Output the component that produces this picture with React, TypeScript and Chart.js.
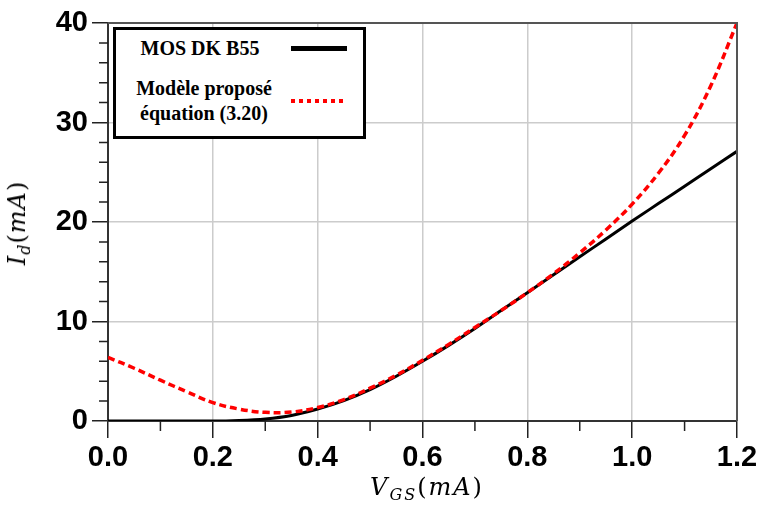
import React, { useEffect, useRef } from "react";
import { Chart, registerables } from "chart.js";

Chart.register(...registerables);

const xValues = [0, 0.05, 0.1, 0.15, 0.2, 0.25, 0.3, 0.35, 0.4, 0.45, 0.5, 0.55, 0.6, 0.65, 0.7, 0.75, 0.8, 0.85, 0.9, 0.95, 1.0, 1.05, 1.1, 1.15, 1.2];
const mosDK = [0, 0, 0, 0, 0, 0.05, 0.2, 0.55, 1.2, 2.05, 3.15, 4.5, 6.0, 7.6, 9.3, 11.1, 12.9, 14.7, 16.5, 18.3, 20.1, 21.85, 23.6, 25.35, 27.1];
const modele = [6.4, 5.3, 4.1, 2.95, 1.85, 1.2, 0.87, 0.9, 1.35, 2.15, 3.3, 4.6, 6.1, 7.7, 9.4, 11.1, 12.9, 14.8, 16.9, 19.2, 21.8, 24.9, 28.7, 33.7, 40];
const xTicks = [0, 0.2, 0.4, 0.6, 0.8, 1.0, 1.2];
const yTicks = [0, 10, 20, 30, 40];
const xMinor = [0.1, 0.3, 0.5, 0.7, 0.9, 1.1];
const yMinor = [2, 4, 6, 8, 12, 14, 16, 18, 22, 24, 26, 28, 32, 34, 36, 38];
const legendLabels = ["MOS DK B55", "Modèle proposé", "équation (3.20)"];

const frameAndMinor = {
  id: "frameAndMinor",
  afterDraw(chart: any) {
    const { ctx, chartArea, scales } = chart;
    const xs = scales.x;
    const ys = scales.y;
    ctx.save();
    ctx.strokeStyle = "#555";
    ctx.lineWidth = 2;
    ctx.beginPath();
    ctx.moveTo(chartArea.left, chartArea.top);
    ctx.lineTo(chartArea.right, chartArea.top);
    ctx.lineTo(chartArea.right, chartArea.bottom);
    ctx.stroke();
    ctx.strokeStyle = "#222";
    ctx.lineWidth = 1.5;
    ctx.beginPath();
    xMinor.forEach((v) => {
      const px = xs.getPixelForValue(v);
      ctx.moveTo(px, chartArea.bottom);
      ctx.lineTo(px, chartArea.bottom + 10);
    });
    yMinor.forEach((v) => {
      const py = ys.getPixelForValue(v);
      ctx.moveTo(chartArea.left, py);
      ctx.lineTo(chartArea.left - 9, py);
    });
    ctx.stroke();
    ctx.restore();
  },
};

export default function App() {
  const ref = useRef<HTMLCanvasElement>(null);
  useEffect(() => {
    if (!ref.current) return;
    const tickFont = { family: "'Liberation Sans', Arial, sans-serif", size: 29, weight: "bold" as const };
    const chart = new Chart(ref.current, {
      type: "line",
      data: {
        datasets: [
          {
            label: "Modèle proposé équation (3.20)",
            data: xValues.map((x, i) => ({ x, y: modele[i] })),
            borderColor: "#ff0000",
            borderWidth: 3.5,
            borderDash: [7, 4],
            pointRadius: 0,
            tension: 0.4,
            fill: false,
          },
          {
            label: "MOS DK B55",
            data: xValues.map((x, i) => ({ x, y: mosDK[i] })),
            borderColor: "#000000",
            borderWidth: 3,
            pointRadius: 0,
            cubicInterpolationMode: "monotone",
            fill: false,
          },
        ],
      },
      options: {
        animation: false,
        responsive: false,
        devicePixelRatio: 1,
        layout: { padding: { left: 0, right: 25, top: 23, bottom: 0 } },
        plugins: { legend: { display: false }, tooltip: { enabled: false } },
        scales: {
          x: {
            type: "linear",
            min: 0,
            max: 1.2,
            afterBuildTicks: (s: any) => {
              s.ticks = xTicks.map((v) => ({ value: v }));
            },
            afterFit: (s: any) => {
              s.height = 94;
            },
            ticks: {
              font: tickFont,
              color: "#000",
              padding: 3,
              maxRotation: 0,
              callback: (v: any) => Number(v).toFixed(1),
            },
            grid: { color: "#cccccc", lineWidth: 1.5, tickLength: 17, tickColor: "#222", tickWidth: 1.5 },
            border: { color: "#333", width: 2 },
          },
          y: {
            type: "linear",
            min: 0,
            max: 40,
            afterBuildTicks: (s: any) => {
              s.ticks = yTicks.map((v) => ({ value: v }));
            },
            afterFit: (s: any) => {
              s.width = 108;
            },
            ticks: {
              font: tickFont,
              color: "#000",
              padding: 4,
              callback: (v: any) => String(v),
            },
            grid: { color: "#cccccc", lineWidth: 1.5, tickLength: 16, tickColor: "#222", tickWidth: 1.5 },
            border: { color: "#333", width: 2 },
          },
        },
      },
      plugins: [frameAndMinor],
    });
    return () => chart.destroy();
  }, []);

  const serif = "'Liberation Serif', 'Times New Roman', serif";
  const legText: React.CSSProperties = {
    position: "absolute",
    fontFamily: serif,
    fontWeight: "bold",
    fontSize: 20,
    whiteSpace: "nowrap",
    transform: "translateX(-50%)",
    lineHeight: "20px",
    color: "#000",
  };
  const mathFont: React.CSSProperties = {
    fontFamily: "'DejaVu Serif', serif",
    fontSize: 24,
    color: "#000",
    whiteSpace: "nowrap",
    lineHeight: "30px",
  };
  const it: React.CSSProperties = { fontStyle: "italic" };
  const sub: React.CSSProperties = { fontStyle: "italic", fontSize: 16, verticalAlign: "-5px" };

  return (
    <div style={{ position: "absolute", left: 0, top: 0, width: 762, height: 515, background: "#fff" }}>
      <canvas ref={ref} width={762} height={515} style={{ position: "absolute", left: 0, top: 0 }} />
      <div
        style={{
          position: "absolute",
          left: 113,
          top: 27,
          width: 253,
          height: 112,
          boxSizing: "border-box",
          border: "3px solid #000",
          background: "#fff",
        }}
      />
      <div style={{ ...legText, left: 200, top: 38 }}>{legendLabels[0]}</div>
      <div style={{ position: "absolute", left: 291, top: 46, width: 56, height: 5, background: "#000" }} />
      <div style={{ ...legText, left: 204, top: 78 }}>{legendLabels[1]}</div>
      <div style={{ ...legText, left: 204, top: 103 }}>{legendLabels[2]}</div>
      <div
        style={{
          position: "absolute",
          left: 291,
          top: 99,
          width: 56,
          height: 4,
          background: "repeating-linear-gradient(to right, #ff0000 0px, #ff0000 4px, transparent 4px, transparent 8px)",
        }}
      />
      <div
        style={{
          ...mathFont,
          position: "absolute",
          left: 21,
          top: 223,
          letterSpacing: 1,
          transform: "translate(-50%, -50%) rotate(-90deg)",
        }}
      >
        <span style={it}>I</span>
        <span style={sub}>d</span>(<span style={it}>mA</span>)
      </div>
      <div
        style={{
          ...mathFont,
          position: "absolute",
          left: 427,
          top: 491,
          letterSpacing: 2,
          transform: "translate(-50%, -50%)",
        }}
      >
        <span style={it}>V</span>
        <span style={sub}>GS</span>(<span style={it}>mA</span>)
      </div>
    </div>
  );
}
